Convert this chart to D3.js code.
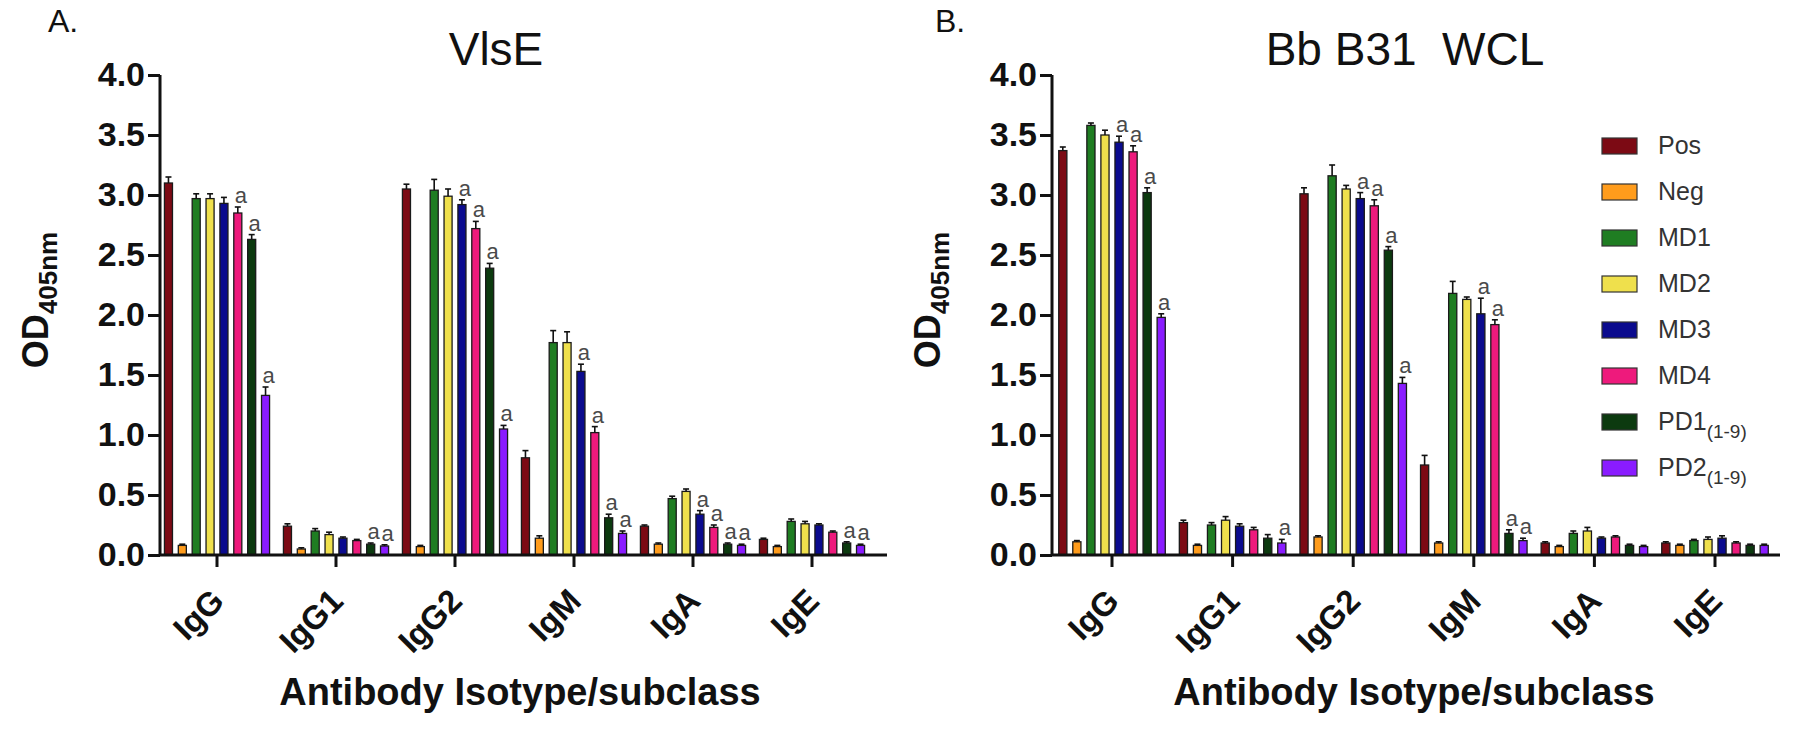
<!DOCTYPE html>
<html><head><meta charset="utf-8">
<script src="https://cdn.jsdelivr.net/npm/d3@7"></script>
<style>
body{margin:0;background:#fff;}
svg{display:block;}
text{font-family:Arial,"Liberation Sans",sans-serif;fill:#111;}
</style>
</head><body>
<svg id="chart" width="1800" height="731"></svg>
<script>
// ---------- data ----------
const categories = ["IgG","IgG1","IgG2","IgM","IgA","IgE"];
const seriesNames = ["Pos","Neg","MD1","MD2","MD3","MD4","PD1","PD2"];
const legendMain = ["Pos","Neg","MD1","MD2","MD3","MD4","PD1","PD2"];
const legendSub  = ["","","","","","","(1-9)","(1-9)"];
const seriesColors = ["#7c0a14","#ff9c1c","#1f7d22","#efe04c","#0b0b8e","#ee1a7c","#0c3a0f","#8a1cff"];
const yTicks = [0,0.5,1,1.5,2,2.5,3,3.5,4];

// Panel A: VlsE  (values in category order IgG, IgG1, IgG2, IgM, IgA, IgE)
const vlsePos = [3.10,0.24,3.05,0.81,0.24,0.13];
const vlseNeg = [0.08,0.05,0.07,0.14,0.09,0.07];
const vlseMD1 = [2.97,0.20,3.04,1.77,0.47,0.28];
const vlseMD2 = [2.97,0.17,2.99,1.77,0.53,0.26];
const vlseMD3 = [2.93,0.14,2.92,1.53,0.34,0.25];
const vlseMD4 = [2.85,0.12,2.72,1.02,0.23,0.19];
const vlsePD1 = [2.63,0.09,2.39,0.31,0.09,0.10];
const vlsePD2 = [1.33,0.075,1.05,0.18,0.08,0.08];
const vlseErrPos = [0.05,0.02,0.04,0.06,0.01,0.01];
const vlseErrNeg = [0.01,0.01,0.01,0.02,0.01,0.01];
const vlseErrMD1 = [0.04,0.02,0.09,0.10,0.02,0.02];
const vlseErrMD2 = [0.04,0.02,0.06,0.09,0.02,0.02];
const vlseErrMD3 = [0.05,0.01,0.04,0.06,0.03,0.01];
const vlseErrMD4 = [0.05,0.01,0.06,0.05,0.02,0.01];
const vlseErrPD1 = [0.04,0.01,0.04,0.03,0.01,0.01];
const vlseErrPD2 = [0.07,0.01,0.03,0.02,0.01,0.01];
// significance letter "a" (1 = shown)
const vlseSigMD3 = [0,0,1,1,1,0];
const vlseSigMD4 = [1,0,1,1,1,0];
const vlseSigPD1 = [1,1,1,1,1,1];
const vlseSigPD2 = [1,1,1,1,1,1];

// Panel B: Bb B31 WCL
const wclPos = [3.37,0.27,3.01,0.75,0.10,0.10];
const wclNeg = [0.11,0.08,0.15,0.10,0.07,0.08];
const wclMD1 = [3.58,0.25,3.16,2.18,0.18,0.12];
const wclMD2 = [3.50,0.29,3.05,2.13,0.20,0.13];
const wclMD3 = [3.44,0.24,2.97,2.01,0.14,0.14];
const wclMD4 = [3.36,0.21,2.91,1.92,0.15,0.10];
const wclPD1 = [3.02,0.14,2.54,0.18,0.08,0.08];
const wclPD2 = [1.98,0.10,1.43,0.12,0.07,0.08];
const wclErrPos = [0.03,0.02,0.05,0.08,0.01,0.01];
const wclErrNeg = [0.01,0.01,0.01,0.01,0.01,0.01];
const wclErrMD1 = [0.02,0.02,0.09,0.10,0.02,0.01];
const wclErrMD2 = [0.04,0.03,0.03,0.02,0.03,0.02];
const wclErrMD3 = [0.05,0.02,0.05,0.13,0.01,0.02];
const wclErrMD4 = [0.05,0.02,0.05,0.04,0.01,0.01];
const wclErrPD1 = [0.04,0.03,0.03,0.03,0.01,0.01];
const wclErrPD2 = [0.03,0.03,0.05,0.02,0.01,0.01];
const wclSigMD3 = [1,0,1,1,0,0];
const wclSigMD4 = [1,0,1,1,0,0];
const wclSigPD1 = [1,0,1,1,0,0];
const wclSigPD2 = [1,1,1,1,0,0];

const zeros = [0,0,0,0,0,0];

// ---------- build tables ----------
function buildRows(vals, errs, sigs){
  const rows = [];
  categories.forEach((c,ci)=>{
    seriesNames.forEach((s,si)=>{
      rows.push({cat:c, ser:s, si:si, v:vals[si][ci], e:errs[si][ci], sig:sigs[si][ci]});
    });
  });
  return rows;
}
const panelA = {
  label:"A.", title:"VlsE",
  rows: buildRows(
    [vlsePos,vlseNeg,vlseMD1,vlseMD2,vlseMD3,vlseMD4,vlsePD1,vlsePD2],
    [vlseErrPos,vlseErrNeg,vlseErrMD1,vlseErrMD2,vlseErrMD3,vlseErrMD4,vlseErrPD1,vlseErrPD2],
    [zeros,zeros,zeros,zeros,vlseSigMD3,vlseSigMD4,vlseSigPD1,vlseSigPD2]),
  axisX:160, xr:[157.5,871.5], axisEnd:887, labelX:48, titleX:496, yTitleX:48, xTitleX:520, legend:false
};
const panelB = {
  label:"B.", title:"Bb B31\u00a0\u00a0WCL",
  rows: buildRows(
    [wclPos,wclNeg,wclMD1,wclMD2,wclMD3,wclMD4,wclPD1,wclPD2],
    [wclErrPos,wclErrNeg,wclErrMD1,wclErrMD2,wclErrMD3,wclErrMD4,wclErrPD1,wclErrPD2],
    [zeros,zeros,zeros,zeros,wclSigMD3,wclSigMD4,wclSigPD1,wclSigPD2]),
  axisX:1052, xr:[1051.7,1775.3], axisEnd:1780, labelX:935, titleX:1405, yTitleX:940, xTitleX:1414, legend:true
};

const svg = d3.select("#chart");
const y = d3.scaleLinear().domain([0,4]).range([555,75]);
const color = d3.scaleOrdinal().domain(seriesNames).range(seriesColors);

function drawPanel(p){
  const g = svg.append("g");
  const x0 = d3.scaleBand().domain(categories).range(p.xr).padding(0);
  const x1 = d3.scaleBand().domain(seriesNames).range([0,x0.bandwidth()]).paddingInner(0.42).paddingOuter(0.5);
  const bw = x1.bandwidth();
  const cx = d=>x0(d.cat)+x1(d.ser)+bw/2;

  // bars
  g.selectAll("rect.bar").data(p.rows).join("rect")
    .attr("class","bar")
    .attr("x",d=>x0(d.cat)+x1(d.ser))
    .attr("y",d=>y(d.v))
    .attr("width",bw)
    .attr("height",d=>y(0)-y(d.v))
    .attr("fill",d=>color(d.ser))
    .attr("stroke","#1a1a1a").attr("stroke-width",1.3);
  // error bars
  g.selectAll("line.err").data(p.rows).join("line")
    .attr("x1",cx).attr("x2",cx)
    .attr("y1",d=>y(d.v)).attr("y2",d=>y(d.v+d.e))
    .attr("stroke","#111").attr("stroke-width",1.6);
  g.selectAll("line.cap").data(p.rows).join("line")
    .attr("x1",d=>cx(d)-3).attr("x2",d=>cx(d)+3)
    .attr("y1",d=>y(d.v+d.e)).attr("y2",d=>y(d.v+d.e))
    .attr("stroke","#111").attr("stroke-width",1.6);
  // significance letters
  g.selectAll("text.sig").data(p.rows.filter(d=>d.sig)).join("text")
    .attr("class","sig")
    .attr("x",d=>cx(d)+3)
    .attr("y",d=>y(d.v+d.e)-4)
    .attr("text-anchor","middle")
    .style("font-size","22px").style("fill","#4a4a4a")
    .text("a");

  // y axis
  const ya = d3.axisLeft(y).tickValues(yTicks).tickFormat(d3.format(".1f")).tickSize(12).tickPadding(3);
  const yg = g.append("g").attr("transform",`translate(${p.axisX},0)`).call(ya);
  yg.select(".domain").attr("stroke","#111").attr("stroke-width",3).attr("d",`M0,${y(4)}V${y(0)}`);
  yg.selectAll(".tick line").attr("stroke","#111").attr("stroke-width",3);
  yg.selectAll(".tick text").style("font-size","34px").style("font-weight","bold").attr("fill","#111");

  // x axis
  const xa = d3.axisBottom(x0).tickSize(12).tickPadding(6).tickSizeOuter(0);
  const xg = g.append("g").attr("transform",`translate(0,${y(0)})`).call(xa);
  xg.select(".domain").attr("stroke","#111").attr("stroke-width",3).attr("d",`M${p.axisX},0H${p.axisEnd}`);
  xg.selectAll(".tick line").attr("stroke","#111").attr("stroke-width",3);
  xg.selectAll(".tick text")
    .style("font-size","33px").style("font-weight","bold").attr("fill","#111")
    .attr("text-anchor","end").attr("dy",0)
    .attr("transform","translate(9,48) rotate(-45)")
    .attr("y",0).attr("x",0);

  // panel label and title
  g.append("text").attr("x",p.labelX).attr("y",32).style("font-size","32px").text(p.label);
  g.append("text").attr("x",p.titleX).attr("y",65).attr("text-anchor","middle").style("font-size","46px").text(p.title);

  // y title
  const yt = g.append("text").attr("transform",`translate(${p.yTitleX},${300}) rotate(-90)`)
    .attr("text-anchor","middle").style("font-weight","bold").style("font-size","36px");
  yt.append("tspan").text("OD");
  yt.append("tspan").attr("dy",9).style("font-size","26px").text("405nm");

  // x title
  g.append("text").attr("x",p.xTitleX).attr("y",705).attr("text-anchor","middle")
    .style("font-weight","bold").style("font-size","38px").text("Antibody Isotype/subclass");

  if(p.legend){
    const lg = g.append("g");
    const ly = d3.scaleBand().domain(seriesNames).range([123,491]);
    seriesNames.forEach((s,i)=>{
      const cy = ly(s)+ly.bandwidth()/2;
      lg.append("rect").attr("x",1602).attr("y",cy-8).attr("width",35).attr("height",16)
        .attr("fill",color(s)).attr("stroke","#333").attr("stroke-width",1.2);
      const t = lg.append("text").attr("x",1658).attr("y",cy+8).style("font-size","25px").style("fill","#333");
      t.append("tspan").text(legendMain[i]);
      if(legendSub[i]) t.append("tspan").attr("dy",8).style("font-size","19px").text(legendSub[i]);
    });
  }
}
drawPanel(panelA);
drawPanel(panelB);
</script>
</body></html>
